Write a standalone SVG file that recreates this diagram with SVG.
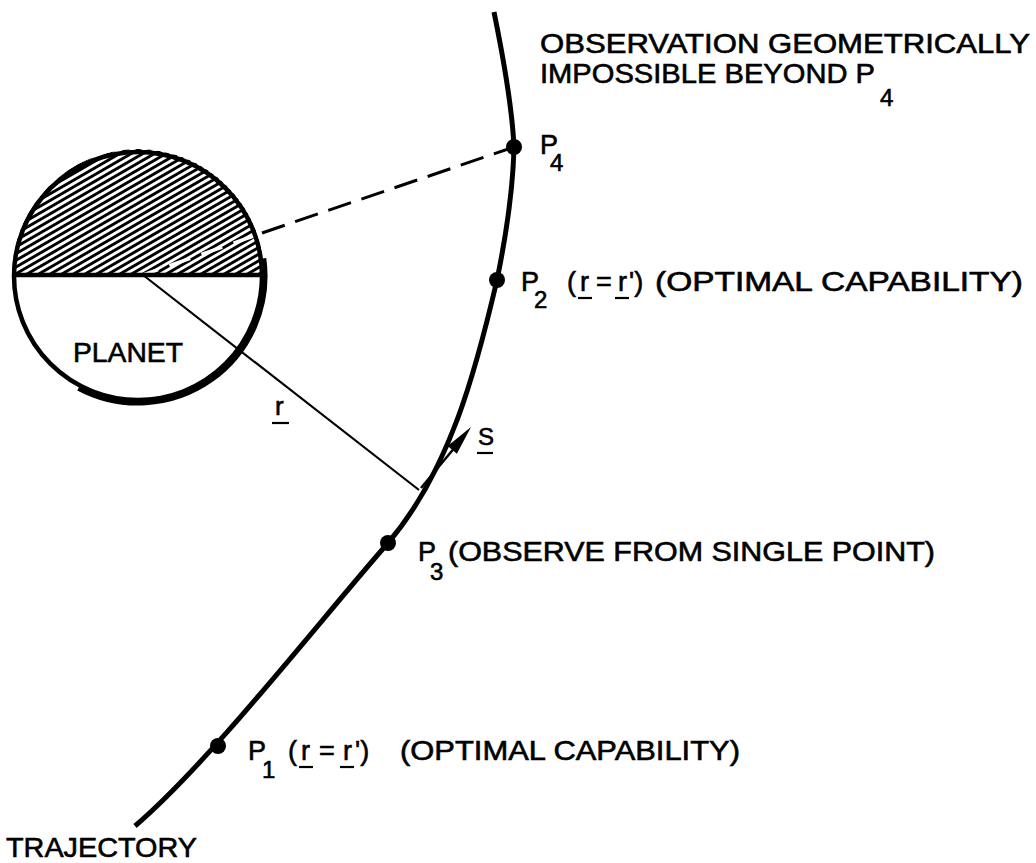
<svg xmlns="http://www.w3.org/2000/svg" width="1036" height="863" viewBox="0 0 1036 863">
<style>
  text { font-family: "Liberation Sans", Arial, sans-serif; fill: #000; stroke: #000; stroke-width: 0.6; }
  .lbl { font-size: 27px; }
  .sub { font-size: 24px; }
  .ul { stroke: #000; stroke-width: 2.2; }
  .dot { fill: #000; }
</style>
<defs>
  <pattern id="hatch" patternUnits="userSpaceOnUse" width="20" height="5.8" patternTransform="rotate(-30)">
    <rect x="0" y="0" width="20" height="2.9" fill="#000"/>
  </pattern>
  <clipPath id="upper">
    <path d="M 12 275 A 126 126 0 0 1 264 275 Z"/>
  </clipPath>
</defs>
<rect width="1036" height="863" fill="#fff"/>

<g id="planet">
  <path d="M 12 275 A 126 126 0 0 1 264 275 Z" fill="url(#hatch)" clip-path="url(#upper)"/>
  <line x1="143" y1="275" x2="262" y2="233" stroke="#fff" stroke-width="3.5" stroke-dasharray="22 12" stroke-dashoffset="6" clip-path="url(#upper)"/>
  <circle cx="138" cy="276" r="124" fill="none" stroke="#000" stroke-width="4.5"/>
  <path d="M 262.8 258.5 A 126 126 0 0 1 78.9 387.3" fill="none" stroke="#000" stroke-width="7"/>
  <line x1="13" y1="275" x2="263" y2="275" stroke="#000" stroke-width="4.5"/>
  <text x="73" y="362" font-size="28" textLength="110" lengthAdjust="spacingAndGlyphs">PLANET</text>
</g>

<g id="connectors">
  <path id="trajectory" d="M 135 826 C 210 762, 322 618, 388 543 C 450 470, 476 370, 497 280 C 506 236, 513 190, 514 147 C 512 105, 503 56, 494 12" fill="none" stroke="#000" stroke-width="5"/>
  <line x1="262" y1="233" x2="514" y2="147" stroke="#000" stroke-width="3" stroke-dasharray="24 11"/>
  <line x1="143" y1="275" x2="419" y2="490" stroke="#000" stroke-width="2.2"/>
  <line x1="421" y1="488" x2="456" y2="446" stroke="#000" stroke-width="2.5"/>
  <polygon points="471,427 456.9,453.7 447.7,446.0" fill="#000"/>
</g>

<g id="labels-vec">
  <text x="275" y="415" font-size="26">r</text>
  <line class="ul" x1="272" y1="423" x2="289" y2="423"/>
  <text x="478" y="445" font-size="24">S</text>
  <line class="ul" x1="477" y1="453" x2="493" y2="453"/>
</g>

<g id="note">
  <text class="lbl" x="540" y="53" textLength="490" lengthAdjust="spacingAndGlyphs">OBSERVATION GEOMETRICALLY</text>
  <text class="lbl" x="540" y="83" textLength="335" lengthAdjust="spacingAndGlyphs">IMPOSSIBLE BEYOND P</text>
  <text class="sub" x="880" y="106">4</text>
</g>

<g id="p4">
  <circle class="dot" cx="514" cy="147" r="8"/>
  <text class="lbl" x="540" y="154">P</text>
  <text class="sub" x="550" y="171">4</text>
</g>

<g id="p2">
  <circle class="dot" cx="497" cy="280" r="8"/>
  <text class="lbl" x="521" y="291">P</text>
  <text class="sub" x="534" y="308">2</text>
  <text class="lbl" y="291"><tspan x="567">(</tspan><tspan x="580">r</tspan><tspan x="596">=</tspan><tspan x="618">r</tspan><tspan x="629">')</tspan></text>
  <line class="ul" x1="578" y1="298" x2="592" y2="298"/>
  <line class="ul" x1="615" y1="298" x2="629" y2="298"/>
  <text class="lbl" x="655" y="291" textLength="368" lengthAdjust="spacingAndGlyphs">(OPTIMAL CAPABILITY)</text>
</g>

<g id="p3">
  <circle class="dot" cx="388" cy="543" r="8"/>
  <text class="lbl" x="418" y="561">P</text>
  <text class="sub" x="430" y="580">3</text>
  <text class="lbl" x="448" y="561" textLength="487" lengthAdjust="spacingAndGlyphs">(OBSERVE FROM SINGLE POINT)</text>
</g>

<g id="p1">
  <circle class="dot" cx="218" cy="746" r="8"/>
  <text class="lbl" x="248" y="760">P</text>
  <text class="sub" x="262" y="778">1</text>
  <text class="lbl" y="760"><tspan x="288">(</tspan><tspan x="301">r</tspan><tspan x="319">=</tspan><tspan x="343">r</tspan><tspan x="355">')</tspan></text>
  <line class="ul" x1="299" y1="767" x2="313" y2="767"/>
  <line class="ul" x1="340" y1="767" x2="354" y2="767"/>
  <text class="lbl" x="400" y="760" textLength="340" lengthAdjust="spacingAndGlyphs">(OPTIMAL CAPABILITY)</text>
</g>

<g id="trajectory-label">
  <text x="6" y="857" font-size="28" textLength="191" lengthAdjust="spacingAndGlyphs">TRAJECTORY</text>
</g>
</svg>
